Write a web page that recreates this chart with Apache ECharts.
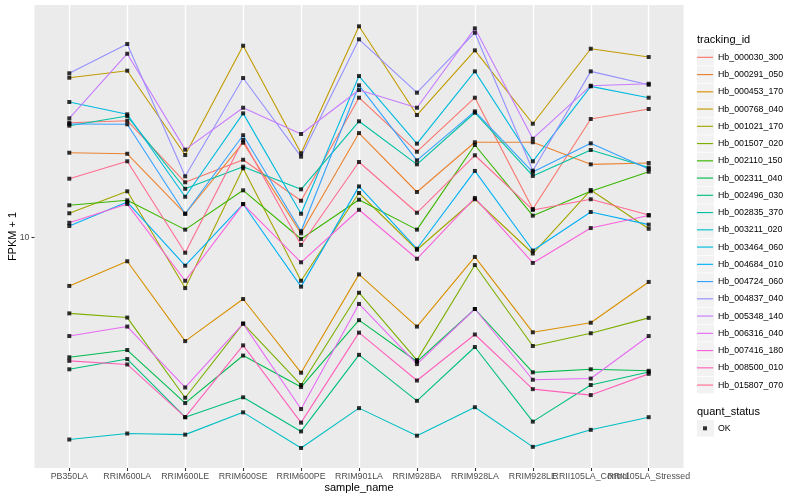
<!DOCTYPE html>
<html>
<head>
<meta charset="utf-8">
<script src="https://cdn.jsdelivr.net/npm/echarts/dist/echarts.min.js"></script>
<style>html,body{margin:0;padding:0;background:#fff}#c{width:800px;height:500px}</style>
</head>
<body>
<div id="c"></div>
<script>
// ---- data ----
const categories = ['PB350LA','RRIM600LA','RRIM600LE','RRIM600SE','RRIM600PE','RRIM901LA','RRIM928BA','RRIM928LA','RRIM928LE','RRII105LA_Control','RRII105LA_Stressed'];
const trackingIds = ['Hb_000030_300','Hb_000291_050','Hb_000453_170','Hb_000768_040','Hb_001021_170','Hb_001507_020','Hb_002110_150','Hb_002311_040','Hb_002496_030','Hb_002835_370','Hb_003211_020','Hb_003464_060','Hb_004684_010','Hb_004724_060','Hb_004837_040','Hb_005348_140','Hb_006316_040','Hb_007416_180','Hb_008500_010','Hb_015807_070'];
const quantStatus = ['OK'];
const yTicks = [10];
const yLimits = [2.823, 35.74];

const Hb_000030_300 = [18.74, 18.95, 13.52, 15.30, 12.22, 21.50, 15.99, 21.50, 11.68, 19.13, 20.21];
const Hb_000291_050 = [15.90, 15.81, 11.38, 16.80, 10.22, 17.71, 12.82, 16.84, 16.84, 14.92, 15.03];
const Hb_000453_170 = [7.66, 8.77, 5.66, 7.13, 4.76, 8.16, 6.13, 8.98, 5.94, 6.26, 7.83];
const Hb_000768_040 = [23.99, 24.93, 15.70, 28.59, 15.85, 31.80, 19.55, 27.87, 18.64, 28.12, 26.87];
const Hb_001021_170 = [11.41, 12.87, 7.57, 14.60, 7.88, 12.75, 9.34, 12.32, 9.15, 12.96, 10.48];
const Hb_001507_020 = [6.59, 6.44, 4.15, 6.23, 4.45, 7.38, 5.10, 8.59, 5.51, 5.91, 6.43];
const Hb_002110_150 = [11.92, 12.25, 10.43, 12.94, 9.91, 12.29, 10.43, 16.59, 11.26, 12.87, 14.33];
const Hb_002311_040 = [5.18, 5.39, 4.03, 5.23, 4.40, 6.35, 5.06, 6.75, 4.77, 4.85, 4.81];
const Hb_002496_030 = [4.85, 5.13, 3.73, 4.16, 3.45, 5.25, 4.08, 5.48, 3.64, 4.45, 4.78];
const Hb_002835_370 = [18.44, 19.44, 13.05, 14.73, 13.01, 18.89, 14.92, 19.80, 14.00, 16.14, 14.66];
const Hb_003211_020 = [3.30, 3.41, 3.39, 3.83, 3.15, 3.92, 3.37, 3.94, 3.17, 3.48, 3.73];
const Hb_003464_060 = [21.00, 19.63, 12.49, 19.73, 11.38, 24.21, 16.71, 24.84, 15.17, 22.88, 21.50];
const Hb_004684_010 = [10.64, 12.13, 8.56, 12.00, 7.63, 13.22, 9.39, 14.39, 9.30, 11.49, 10.72];
const Hb_004724_060 = [18.61, 18.58, 11.38, 17.50, 10.34, 23.01, 15.25, 19.95, 14.30, 16.74, 14.54];
const Hb_004837_040 = [24.58, 28.86, 13.97, 23.95, 15.56, 29.61, 22.10, 30.70, 14.41, 24.84, 23.08];
const Hb_005348_140 = [19.20, 27.36, 16.17, 20.35, 17.62, 22.42, 20.35, 31.45, 17.17, 22.96, 23.21];
const Hb_006316_040 = [5.82, 6.13, 4.39, 6.23, 3.90, 6.94, 4.99, 6.75, 4.58, 4.61, 5.82];
const Hb_007416_180 = [10.83, 12.00, 7.88, 12.00, 8.72, 11.63, 8.89, 12.41, 8.69, 10.52, 11.27];
const Hb_008500_010 = [5.08, 4.98, 3.73, 5.53, 3.62, 5.93, 4.56, 5.87, 4.35, 4.21, 4.73];
const Hb_015807_070 = [13.79, 15.17, 9.19, 17.05, 9.59, 15.11, 11.44, 15.68, 11.62, 12.32, 11.30];

const seriesValues = [Hb_000030_300, Hb_000291_050, Hb_000453_170, Hb_000768_040, Hb_001021_170,
  Hb_001507_020, Hb_002110_150, Hb_002311_040, Hb_002496_030, Hb_002835_370, Hb_003211_020,
  Hb_003464_060, Hb_004684_010, Hb_004724_060, Hb_004837_040, Hb_005348_140, Hb_006316_040,
  Hb_007416_180, Hb_008500_010, Hb_015807_070];

const palette = ['#F8766D','#EA8331','#D89000','#C09B00','#A3A500','#7CAE00','#39B600','#00BB4E','#00BF7D','#00C1A3',
                 '#00BFC4','#00BAE0','#00B0F6','#35A2FF','#9590FF','#C77CFF','#E76BF3','#FA62DB','#FF62BC','#FF6C90'];

// ---- layout / style ----
const FONT = '"Liberation Sans", Arial, Helvetica, sans-serif';
const PANEL = {left: 34.5, top: 5, width: 649, height: 463};
const DATA_X = {left: 69.3, width: 579.4};
const LEG = {left: 697, top: 48.7, step: 17.25, key: 17};
// legend key glyphs (bounding box padded with moveTo points so the glyph keeps its size)
const LINE_KEY = 'path://M0,0 M16,17.25 M0,8.05 L16,8.05 L16,9.2 L0,9.2 Z';
const POINT_KEY = 'path://M0,0 M16,17.25 M6,6.6 L10,6.6 L10,10.6 L6,10.6 Z';

const chart = echarts.init(document.getElementById('c'), null, {renderer: 'canvas'});

const series = [];
trackingIds.forEach((id, i) => {
  series.push({
    type: 'line', name: id, xAxisIndex: 1, yAxisIndex: 1,
    data: seriesValues[i], symbol: 'none', silent: true, z: 2,
    lineStyle: {width: 1.1, color: palette[i]}, itemStyle: {color: palette[i]}
  });
});
trackingIds.forEach((id, i) => {
  series.push({
    type: 'scatter', name: quantStatus[0], xAxisIndex: 1, yAxisIndex: 1,
    data: seriesValues[i], symbol: 'rect', symbolSize: 4, silent: true, z: 3,
    itemStyle: {color: '#000000'}
  });
});

const graphics = [];
trackingIds.forEach((id, i) => {
  graphics.push({type: 'rect', z: -10, silent: true,
    shape: {x: LEG.left, y: LEG.top + i * LEG.step + 0.4, width: LEG.key, height: LEG.step - 0.8},
    style: {fill: '#F2F2F2'}});
});
graphics.push({type: 'rect', z: -10, silent: true,
  shape: {x: LEG.left, y: 420.1, width: LEG.key, height: 16.5}, style: {fill: '#F2F2F2'}});
graphics.push({type: 'text', silent: true, x: LEG.left, y: 39.5,
  style: {text: 'tracking_id', font: '11px ' + FONT, fill: '#000', verticalAlign: 'middle'}});
graphics.push({type: 'text', silent: true, x: LEG.left, y: 412,
  style: {text: 'quant_status', font: '11px ' + FONT, fill: '#000', verticalAlign: 'middle'}});

const option = {
  backgroundColor: '#ffffff',
  animation: false,
  textStyle: {fontFamily: FONT},
  grid: [
    {left: PANEL.left, top: PANEL.top, width: PANEL.width, height: PANEL.height, outerBoundsMode: 'none',
     containLabel: false, show: true, backgroundColor: '#EBEBEB', borderWidth: 0, z: -1},
    {left: DATA_X.left, top: PANEL.top, width: DATA_X.width, height: PANEL.height, outerBoundsMode: 'none',
     containLabel: false, show: false}
  ],
  xAxis: [
    {gridIndex: 0, type: 'value', min: 0, max: 1, show: false},
    {gridIndex: 1, type: 'category', data: categories, boundaryGap: false,
     axisLine: {show: false},
     axisTick: {show: true, length: 3, lineStyle: {color: '#333333', width: 1.1}},
     axisLabel: {interval: 0, margin: 4, fontSize: 8.8, color: '#4D4D4D', fontFamily: FONT, hideOverlap: false},
     splitLine: {show: true, lineStyle: {color: '#FFFFFF', width: 1.4}},
     name: 'sample_name', nameLocation: 'middle', nameGap: 14, nameMoveOverlap: false,
     nameTextStyle: {fontSize: 11, color: '#000', fontFamily: FONT}}
  ],
  yAxis: [
    {gridIndex: 0, type: 'log', logBase: 10, min: yLimits[0], max: yLimits[1],
     axisLine: {show: false},
     axisTick: {show: true, length: 3, customValues: yTicks, lineStyle: {color: '#333333', width: 1.1}},
     axisLabel: {margin: 5, fontSize: 8.8, color: '#4D4D4D', fontFamily: FONT, customValues: yTicks,
       formatter: v => (Math.abs(v - 10) < 1e-6 ? '10' : '')},
     splitLine: {show: true, showMinLine: false, showMaxLine: false, lineStyle: {color: '#FFFFFF', width: 1.4}},
     name: 'FPKM + 1', nameLocation: 'middle', nameGap: 16, nameMoveOverlap: false,
     nameTextStyle: {fontSize: 11, color: '#000', fontFamily: FONT}},
    {gridIndex: 1, type: 'log', logBase: 10, min: yLimits[0], max: yLimits[1], show: false,
     splitLine: {show: false}}
  ],
  legend: [
    {data: trackingIds, orient: 'vertical', left: LEG.left, top: LEG.top, padding: 0,
     icon: LINE_KEY, itemWidth: 16, itemHeight: 17.25, itemGap: 0, selectedMode: false,
     textStyle: {fontSize: 8.8, color: '#000', fontFamily: FONT, lineHeight: 17.25}},
    {data: quantStatus, orient: 'vertical', left: LEG.left, top: 419.7, padding: 0,
     icon: POINT_KEY, itemWidth: 16, itemHeight: 17.25, itemGap: 0, selectedMode: false,
     itemStyle: {color: '#000'},
     textStyle: {fontSize: 8.8, color: '#000', fontFamily: FONT, lineHeight: 17.25}}
  ],
  graphic: graphics,
  series: series
};
chart.setOption(option);
</script>
</body>
</html>
